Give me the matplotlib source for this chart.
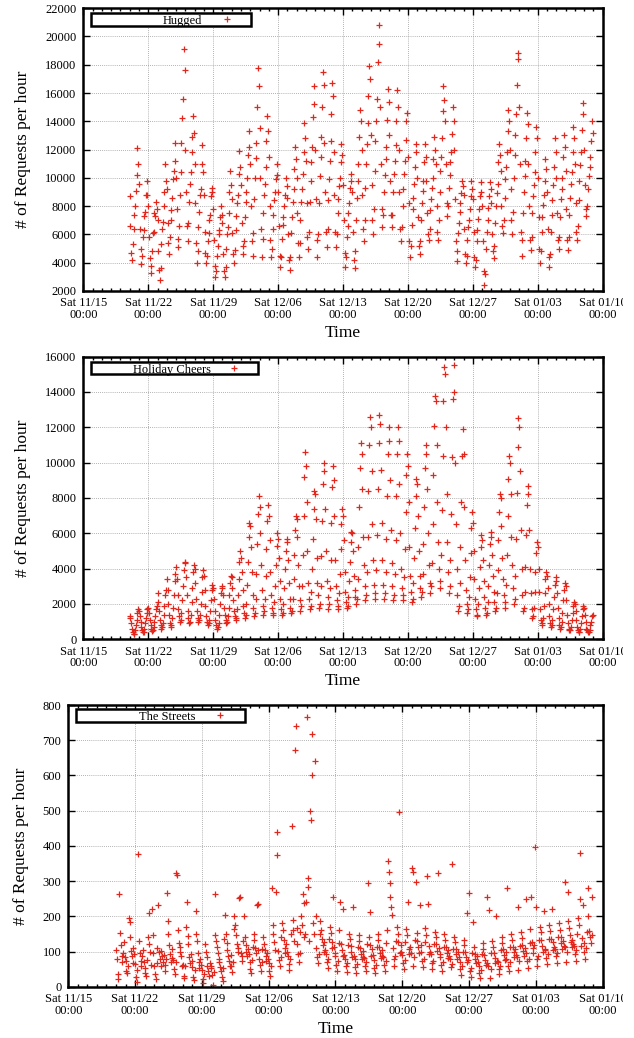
import numpy as np
import matplotlib
matplotlib.use("Agg")
import matplotlib.pyplot as plt
import matplotlib.dates as mdates
from matplotlib.patches import Rectangle
from matplotlib.transforms import Bbox, TransformedBbox

plt.rcParams['font.family'] = ['Liberation Serif', 'DejaVu Serif']

# one row per day (11/20 .. 01/08), one value every 2 hours starting 00:00
# Hugged, in hundreds of requests
hugged = [
    [87, 66, 47, 42, 53, 64, 74, 80, 91, 102, 121, 110],
    [96, 64, 50, 39, 45, 58, 63, 73, 76, 88, 98, 88],
    [80, 58, 43, 33, 38, 48, 61, 62, 75, 73, 83, 78],
    [70, 48, 35, 28, 36, 53, 64, 69, 80, 90, 110, 98],
    [92, 68, 54, 46, 58, 70, 77, 86, 99, 105, 125, 112],
    [100, 78, 57, 51, 66, 88, 104, 125, 142, 156, 191, 176],
    [120, 90, 66, 55, 68, 83, 96, 104, 118, 129, 144, 132],
    [110, 82, 54, 40, 48, 65, 76, 88, 92, 110, 123, 104],
    [88, 62, 47, 40, 45, 55, 61, 70, 74, 87, 93, 90],
    [78, 56, 38, 30, 34, 45, 52, 60, 63, 72, 80, 74],
    [68, 46, 34, 30, 37, 50, 60, 65, 75, 90, 105, 95],
    [85, 61, 46, 40, 49, 63, 73, 82, 88, 103, 119, 108],
    [95, 68, 52, 46, 55, 72, 83, 90, 100, 116, 133, 122],
    [110, 80, 55, 45, 61, 85, 100, 114, 125, 150, 178, 165],
    [135, 100, 64, 44, 57, 75, 88, 96, 108, 126, 144, 133],
    [115, 80, 56, 44, 50, 64, 74, 84, 90, 99, 110, 102],
    [90, 66, 45, 37, 44, 57, 67, 72, 80, 88, 100, 94],
    [86, 60, 42, 35, 44, 61, 72, 83, 92, 106, 122, 113],
    [100, 75, 54, 44, 54, 70, 83, 92, 103, 118, 139, 128],
    [112, 82, 58, 50, 62, 83, 98, 111, 122, 143, 165, 152],
    [120, 85, 56, 44, 60, 82, 101, 115, 129, 150, 175, 166],
    [125, 90, 62, 51, 64, 84, 99, 112, 126, 145, 167, 158],
    [118, 88, 62, 51, 60, 75, 85, 94, 100, 111, 124, 116],
    [95, 70, 47, 37, 44, 58, 66, 75, 82, 93, 103, 98],
    [90, 62, 42, 36, 48, 70, 86, 98, 110, 129, 148, 140],
    [120, 88, 64, 55, 70, 93, 110, 124, 139, 158, 179, 170],
    [130, 95, 70, 60, 78, 105, 126, 140, 156, 182, 208, 195],
    [150, 110, 78, 65, 74, 90, 102, 113, 122, 141, 163, 154],
    [130, 98, 74, 65, 74, 90, 103, 112, 123, 140, 162, 150],
    [120, 90, 64, 55, 65, 80, 92, 103, 112, 127, 140, 146],
    [115, 82, 55, 44, 52, 67, 78, 86, 96, 108, 124, 118],
    [100, 72, 52, 46, 55, 70, 82, 91, 98, 111, 124, 115],
    [98, 75, 60, 56, 64, 77, 85, 93, 100, 113, 129, 120],
    [110, 80, 62, 56, 70, 90, 105, 115, 128, 147, 165, 155],
    [140, 110, 82, 73, 80, 93, 102, 111, 118, 131, 150, 140],
    [120, 85, 55, 41, 48, 61, 68, 76, 82, 89, 98, 94],
    [88, 64, 46, 40, 45, 56, 65, 70, 78, 87, 98, 92],
    [85, 62, 44, 37, 42, 55, 63, 71, 78, 87, 97, 90],
    [80, 55, 34, 24, 32, 50, 62, 70, 79, 87, 97, 92],
    [82, 60, 48, 43, 52, 68, 80, 89, 96, 111, 124, 116],
    [105, 80, 66, 61, 70, 86, 99, 108, 118, 133, 148, 140],
    [120, 92, 70, 60, 76, 100, 116, 130, 145, 166, 188, 184],
    [150, 110, 62, 45, 56, 75, 90, 101, 112, 128, 146, 138],
    [110, 80, 56, 49, 58, 75, 87, 95, 104, 118, 136, 128],
    [100, 72, 50, 40, 48, 62, 72, 81, 88, 98, 113, 106],
    [90, 64, 44, 37, 46, 62, 74, 84, 95, 108, 128, 118],
    [100, 75, 56, 50, 58, 72, 85, 92, 100, 115, 130, 122],
    [105, 78, 56, 49, 58, 74, 86, 96, 104, 118, 136, 128],
    [110, 82, 62, 56, 66, 84, 98, 109, 118, 134, 153, 145],
    [120, 95, 78, 73, 80, 92, 101, 108, 115, 126, 140, 132],
]

# Holiday Cheers, in hundreds of requests
holiday = [
    [12, 13, 9, 6, 4, 3, 3, 5, 8, 11, 15, 17],
    [16, 13, 10, 7, 5, 4, 4, 6, 9, 12, 15, 17],
    [18, 15, 11, 8, 6, 4.5, 5, 7, 10, 13, 17, 19],
    [26, 21, 16, 11, 8, 6, 7, 9, 14, 19, 25, 28],
    [34, 28, 20, 14, 9, 7, 8, 12, 18, 25, 33, 37],
    [41, 34, 25, 17, 13, 10, 11, 15, 22, 30, 39, 44],
    [43, 35, 25, 16, 12, 9, 10, 14, 21, 29, 38, 42],
    [40, 32, 23, 16, 12, 10, 11, 14, 20, 27, 35, 39],
    [36, 28, 19, 13, 10, 8, 9, 11, 16, 22, 28, 31],
    [29, 23, 16, 11, 8, 6, 7, 9, 14, 20, 26, 29],
    [30, 25, 18, 14, 11, 9, 10, 13, 18, 25, 32, 36],
    [35, 29, 22, 16, 13, 11, 12, 17, 25, 34, 44, 50],
    [46, 38, 28, 19, 15, 12, 14, 20, 31, 44, 58, 66],
    [64, 52, 38, 25, 18, 13, 15, 23, 37, 54, 71, 81],
    [75, 60, 42, 28, 19, 14, 16, 23, 36, 51, 67, 76],
    [70, 56, 38, 25, 18, 14, 15, 21, 30, 42, 53, 60],
    [57, 46, 33, 23, 17, 14, 15, 20, 29, 40, 50, 57],
    [55, 45, 32, 23, 18, 15, 16, 23, 34, 48, 62, 70],
    [68, 58, 42, 30, 22, 16, 19, 30, 48, 70, 92, 106],
    [98, 78, 50, 32, 23, 17, 19, 27, 40, 57, 74, 84],
    [82, 68, 46, 32, 25, 18, 20, 30, 47, 67, 88, 100],
    [95, 74, 50, 33, 24, 17, 20, 29, 45, 66, 86, 98],
    [90, 70, 45, 30, 22, 17, 19, 26, 37, 51, 65, 74],
    [70, 56, 38, 27, 21, 18, 19, 24, 33, 44, 55, 61],
    [60, 50, 36, 28, 24, 20, 23, 34, 52, 75, 97, 111],
    [105, 85, 58, 42, 30, 22, 25, 38, 58, 84, 110, 126],
    [120, 95, 65, 45, 31, 23, 26, 39, 59, 85, 111, 127],
    [122, 96, 66, 45, 31, 23, 26, 38, 57, 81, 105, 120],
    [112, 90, 62, 43, 30, 22, 25, 37, 56, 81, 105, 120],
    [112, 88, 60, 40, 29, 22, 25, 35, 51, 72, 93, 105],
    [98, 78, 52, 36, 27, 21, 23, 32, 46, 63, 81, 91],
    [88, 70, 50, 36, 29, 24, 27, 37, 54, 75, 97, 110],
    [105, 85, 60, 42, 32, 26, 30, 43, 65, 93, 121, 138],
    [135, 110, 78, 55, 40, 29, 33, 48, 73, 104, 135, 154],
    [150, 120, 82, 55, 38, 26, 30, 45, 71, 103, 136, 155],
    [140, 100, 65, 40, 25, 16, 19, 32, 52, 78, 104, 119],
    [105, 75, 45, 28, 20, 15, 17, 24, 35, 49, 63, 72],
    [66, 50, 34, 23, 17, 13, 14, 20, 29, 41, 52, 59],
    [56, 45, 33, 24, 18, 14, 15, 21, 30, 42, 54, 61],
    [58, 48, 36, 27, 21, 16, 18, 26, 39, 56, 72, 82],
    [80, 64, 46, 34, 25, 18, 21, 31, 48, 70, 91, 104],
    [100, 82, 58, 42, 29, 20, 23, 36, 57, 83, 109, 125],
    [120, 95, 62, 40, 25, 16, 18, 27, 41, 59, 76, 87],
    [82, 62, 40, 26, 17, 12, 13, 18, 27, 38, 49, 55],
    [52, 40, 27, 17, 11, 8, 9, 12, 19, 26, 34, 38],
    [36, 29, 20, 13, 9, 7, 8, 11, 17, 24, 31, 35],
    [33, 26, 18, 12, 8, 6, 7, 10, 15, 22, 28, 32],
    [30, 22, 14, 9, 6, 5, 5, 7, 11, 15, 19, 21],
    [20, 16, 11, 7, 5, 4, 4, 6, 9, 13, 17, 19],
    [18, 14, 10, 6, 5, 4, 4, 5, 8, 10, 13, 14],
]

# The Streets, requests
streets = [
    [105, 80, 35, 22, 262, 152, 118, 88, 70, 95, 128, 84],
    [72, 45, 38, 60, 195, 185, 140, 102, 86, 66, 110, 92],
    [64, 28, 14, 48, 378, 130, 96, 74, 58, 88, 104, 70],
    [52, 40, 30, 75, 140, 210, 120, 100, 62, 220, 148, 96],
    [58, 36, 22, 66, 110, 232, 98, 78, 60, 102, 88, 70],
    [90, 62, 44, 80, 265, 186, 150, 118, 92, 70, 106, 82],
    [76, 50, 36, 70, 322, 318, 160, 124, 98, 112, 86, 60],
    [62, 30, 24, 58, 170, 240, 145, 120, 84, 66, 92, 74],
    [56, 28, 20, 48, 150, 215, 130, 96, 70, 54, 80, 62],
    [48, 22, 10, 36, 120, 98, 84, 60, 44, 30, 66, 52],
    [58, 34, 6, 42, 148, 263, 130, 112, 96, 80, 70, 56],
    [46, 28, 16, 52, 136, 203, 150, 124, 104, 86, 74, 60],
    [90, 60, 42, 70, 165, 200, 176, 148, 120, 110, 100, 252],
    [255, 96, 74, 88, 130, 200, 140, 118, 100, 86, 108, 92],
    [70, 50, 40, 76, 112, 150, 134, 110, 96, 232, 104, 234],
    [80, 62, 46, 70, 108, 140, 122, 104, 86, 74, 96, 78],
    [66, 44, 30, 60, 280, 175, 150, 126, 104, 270, 440, 374],
    [102, 76, 58, 84, 140, 180, 160, 132, 110, 96, 120, 98],
    [88, 64, 48, 80, 150, 455, 190, 160, 130, 672, 739, 168],
    [120, 92, 70, 96, 156, 200, 174, 262, 140, 237, 150, 240],
    [765, 310, 284, 130, 500, 473, 601, 717, 180, 150, 642, 200],
    [110, 84, 66, 92, 150, 186, 160, 136, 118, 100, 126, 104],
    [94, 70, 54, 80, 136, 170, 152, 128, 110, 254, 114, 96],
    [86, 62, 44, 72, 124, 160, 240, 122, 104, 88, 222, 90],
    [80, 58, 42, 66, 118, 150, 136, 116, 98, 84, 226, 86],
    [78, 56, 40, 64, 112, 146, 130, 110, 94, 80, 102, 84],
    [82, 60, 44, 70, 120, 294, 140, 118, 213, 86, 108, 90],
    [76, 54, 38, 62, 114, 150, 132, 112, 96, 82, 104, 86],
    [84, 62, 46, 72, 124, 160, 358, 327, 295, 256, 227, 204],
    [110, 80, 60, 86, 130, 170, 150, 128, 495, 96, 118, 100],
    [90, 66, 50, 76, 126, 164, 146, 241, 108, 92, 114, 96],
    [336, 327, 60, 84, 132, 298, 152, 130, 112, 96, 232, 118],
    [100, 74, 56, 80, 128, 166, 148, 314, 234, 94, 116, 98],
    [92, 68, 50, 74, 120, 156, 140, 120, 102, 322, 110, 94],
    [84, 62, 46, 70, 114, 150, 132, 112, 96, 82, 104, 88],
    [78, 56, 348, 64, 108, 142, 126, 108, 92, 78, 100, 84],
    [70, 50, 34, 58, 100, 132, 118, 100, 84, 70, 210, 76],
    [265, 44, 28, 52, 96, 185, 112, 94, 80, 66, 88, 70],
    [60, 40, 24, 48, 92, 124, 108, 90, 76, 62, 256, 66],
    [58, 218, 26, 50, 96, 130, 114, 96, 82, 68, 200, 72],
    [70, 50, 36, 60, 104, 140, 124, 106, 90, 76, 98, 80],
    [279, 60, 44, 70, 112, 150, 134, 114, 98, 84, 106, 90],
    [84, 225, 48, 74, 116, 156, 138, 118, 102, 88, 110, 249],
    [96, 72, 54, 80, 124, 164, 256, 126, 110, 96, 118, 396],
    [225, 80, 60, 88, 132, 170, 154, 132, 116, 100, 215, 108],
    [104, 82, 64, 92, 136, 176, 158, 136, 220, 104, 126, 112],
    [108, 86, 66, 96, 140, 180, 162, 140, 124, 108, 130, 116],
    [112, 298, 70, 100, 268, 186, 168, 146, 128, 112, 134, 120],
    [116, 94, 74, 104, 150, 194, 174, 381, 250, 116, 138, 232],
    [124, 100, 80, 110, 156, 200, 279, 158, 140, 124, 146, 256],
]

start = np.datetime64('2008-11-20T00:00')
xmin, xmax = np.datetime64('2008-11-15T00:00'), np.datetime64('2009-01-10T00:00')

panels = [
    (np.array(hugged).ravel() * 100, 'Hugged', (2000, 22000), 2000,
     [0.1314, 0.7197, 0.8192, 0.2724], (0.0148, 0.322, 0.938, 0.983), 0.191, 0.276),
    (np.array(holiday).ravel() * 100, 'Holiday Cheers', (0, 16000), 2000,
     [0.1314, 0.3841, 0.8192, 0.2723], (0.0148, 0.337, 0.938, 0.980), 0.170, 0.291),
    (np.array(streets).ravel(), 'The Streets', (0, 800), 100,
     [0.1077, 0.0494, 0.8429, 0.2714], (0.0144, 0.331, 0.941, 0.986), 0.185, 0.283),
]

red = '#e3261c'
fig = plt.figure(figsize=(6.34, 10.38), dpi=100)
# the reference image is cut just past the last tick label
clip = TransformedBbox(Bbox([[0, 0], [623 / 634, 1]]), fig.transFigure)

for vals, name, ylim, ystep, pos, box, tx, mx in panels:
    ax = fig.add_axes(pos)
    t = start + np.arange(len(vals)) * np.timedelta64(2, 'h')
    ax.plot(t.astype('datetime64[m]').astype(object), vals, '+', color=red,
            markersize=4.5, markeredgewidth=0.9, linestyle='none')
    ax.set_xlim(xmin.astype(object), xmax.astype(object))
    ax.set_ylim(*ylim)
    ax.set_yticks(np.arange(ylim[0], ylim[1] + 1, ystep))
    ax.xaxis.set_major_locator(mdates.WeekdayLocator(byweekday=mdates.SA))
    ax.xaxis.set_minor_locator(mdates.DayLocator())
    ax.xaxis.set_major_formatter(mdates.DateFormatter('%a %m/%d\n%H:%M'))
    ax.grid(True, which='major', color='#999999', linestyle=(0, (1, 1.5)), linewidth=0.6)
    ax.tick_params(which='both', direction='in', top=True, right=True, labelsize=9,
                   width=1.0, color='black')
    ax.tick_params(which='major', length=5)
    ax.tick_params(which='minor', length=2.5)
    ax.tick_params(axis='x', which='major', pad=4.5)
    ax.tick_params(axis='y', which='major', pad=5)
    for lab in ax.get_xticklabels():
        lab.set_horizontalalignment('center')
        lab.set_linespacing(0.95)
        lab.set_clip_box(clip)
        lab.set_clip_on(True)
    for s in ax.spines.values():
        s.set_linewidth(1.8)
    ax.set_xlabel('Time', fontsize=12.5, labelpad=3)
    ax.set_ylabel('# of Requests per hour', fontsize=12.5, labelpad=10)

    # gnuplot-style key
    ax.add_patch(Rectangle((box[0], box[2]), box[1] - box[0], box[3] - box[2],
                           transform=ax.transAxes, fill=True, facecolor='white',
                           edgecolor='black', linewidth=1.8, zorder=5))
    ax.text(tx, (box[2] + box[3]) / 2, name, transform=ax.transAxes, ha='center',
            va='center_baseline', fontsize=9, zorder=6)
    ax.plot([mx], [(box[2] + box[3]) / 2], '+', color=red, markersize=4.5,
            markeredgewidth=0.9, transform=ax.transAxes, zorder=6, clip_on=False)

fig.savefig('out.png', dpi=100)
